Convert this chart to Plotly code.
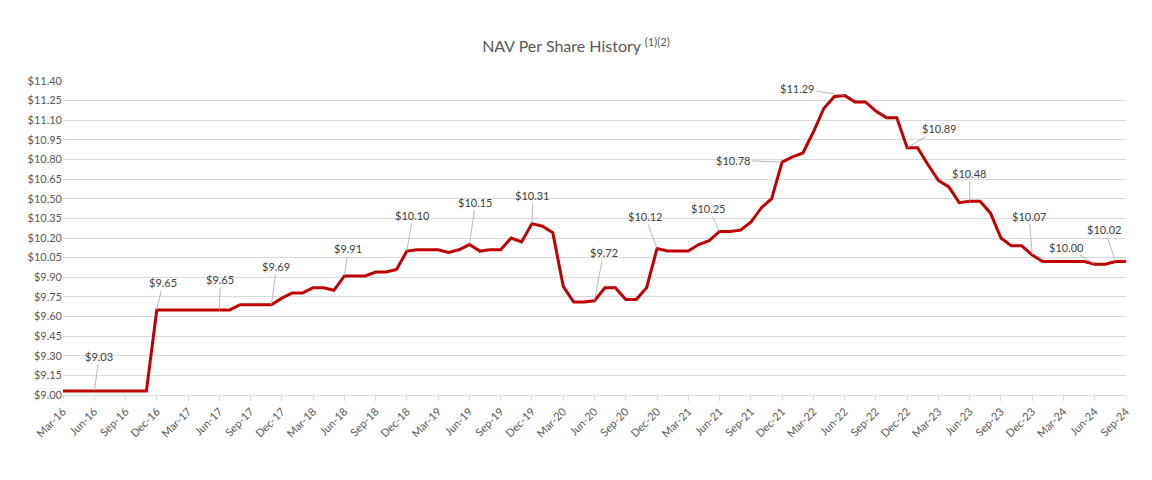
import pandas as pd
import plotly.graph_objects as go

# Monthly NAV per share, Mar-16 .. Sep-24
months = [d.strftime("%b-%y") for d in pd.date_range("2016-03-01", "2024-09-01", freq="MS")]
nav = [
    9.03, 9.03, 9.03, 9.03, 9.03, 9.03, 9.03, 9.03, 9.03,          # Mar-16 .. Nov-16
    9.65, 9.65, 9.65, 9.65, 9.65, 9.65, 9.65, 9.65,                # Dec-16 .. Jul-17
    9.69, 9.69, 9.69, 9.69, 9.74,                                  # Aug-17 .. Dec-17
    9.78, 9.78, 9.82, 9.82, 9.80, 9.91, 9.91, 9.91, 9.94, 9.94, 9.96,  # 2018 Jan..Nov
    10.10, 10.11, 10.11, 10.11, 10.09, 10.11, 10.15, 10.10, 10.11, 10.11, 10.20, 10.17,  # Dec-18..Nov-19
    10.31, 10.29, 10.24, 9.83, 9.71, 9.71, 9.72, 9.82, 9.82, 9.73, 9.73, 9.82,  # Dec-19..Nov-20
    10.12, 10.10, 10.10, 10.10, 10.15, 10.18, 10.25, 10.25, 10.26, 10.32, 10.43, 10.50,  # Dec-20..Nov-21
    10.78, 10.82, 10.85, 11.01, 11.19, 11.28, 11.29, 11.24, 11.24, 11.17, 11.12, 11.12,  # Dec-21..Nov-22
    10.89, 10.89, 10.76, 10.64, 10.59, 10.47, 10.48, 10.48, 10.39, 10.20, 10.14, 10.14,  # Dec-22..Nov-23
    10.07, 10.02, 10.02, 10.02, 10.02, 10.02, 10.00, 10.00, 10.02, 10.02,  # Dec-23..Sep-24
]

tick_labels = months[::3]

# Labelled points (month index) and label offsets in pixels
label_idx = [3, 9, 15, 20, 27, 33, 39, 45, 51, 57, 63, 69, 75, 81, 87, 93, 99, 101]
label_ax = [5, 6, 1, 5, 4, 6, 6, 1, 9, -12, -11, -49, -47, 32, 0, -3, -28, -11]
label_ay = [-35, -27, -30, -38, -27, -36, -42, -28, -48, -32, -23, -2, -7, -19, -28, -39, -17, -32]

FONT = "Lato, Carlito, sans-serif"

fig = go.Figure()
fig.add_trace(go.Scatter(
    x=months, y=nav, mode="lines",
    line=dict(color="#c00000", width=3),
    hoverinfo="x+y", showlegend=False,
))

for i, ax, ay in zip(label_idx, label_ax, label_ay):
    fig.add_annotation(
        x=months[i], y=nav[i], text=f"${nav[i]:.2f}",
        showarrow=True, arrowhead=0, arrowwidth=0.8, arrowcolor="#a6a6a6",
        ax=ax, ay=ay, standoff=0,
        font=dict(family=FONT, size=11, color="#404040"),
    )

# margins compensate for the page's 8px body margin
fig.update_layout(
    width=1152, height=480,
    margin=dict(l=55, r=34, t=73, b=93, autoexpand=False),
    paper_bgcolor="white", plot_bgcolor="white",
    title=dict(
        text="NAV Per Share History <sup>(1)(2)</sup>",
        x=0.493, xanchor="center", y=0.919, yanchor="middle",
        font=dict(family=FONT, size=16, color="#595959"),
    ),
    font=dict(family=FONT, color="#595959"),
)

fig.update_xaxes(
    type="category", automargin=False,
    categoryorder="array", categoryarray=months,
    range=[0, len(months) - 1],
    tickmode="array", tickvals=tick_labels, ticktext=tick_labels,
    tickangle=-45, tickfont=dict(size=11, color="#595959"),
    ticks="outside", ticklen=5, tickcolor="#d9d9d9",
    showgrid=False, showline=True, linecolor="#d9d9d9", linewidth=1,
    zeroline=False,
)
fig.update_yaxes(
    automargin=False,
    range=[9.0, 11.4], tick0=9.0, dtick=0.15,
    tickprefix="$", tickformat=".2f",
    tickfont=dict(size=11, color="#595959"),
    showgrid=True, gridcolor="#d9d9d9", gridwidth=1,
    zeroline=False, showline=False, ticks="",
)

fig.write_html("out.html")
